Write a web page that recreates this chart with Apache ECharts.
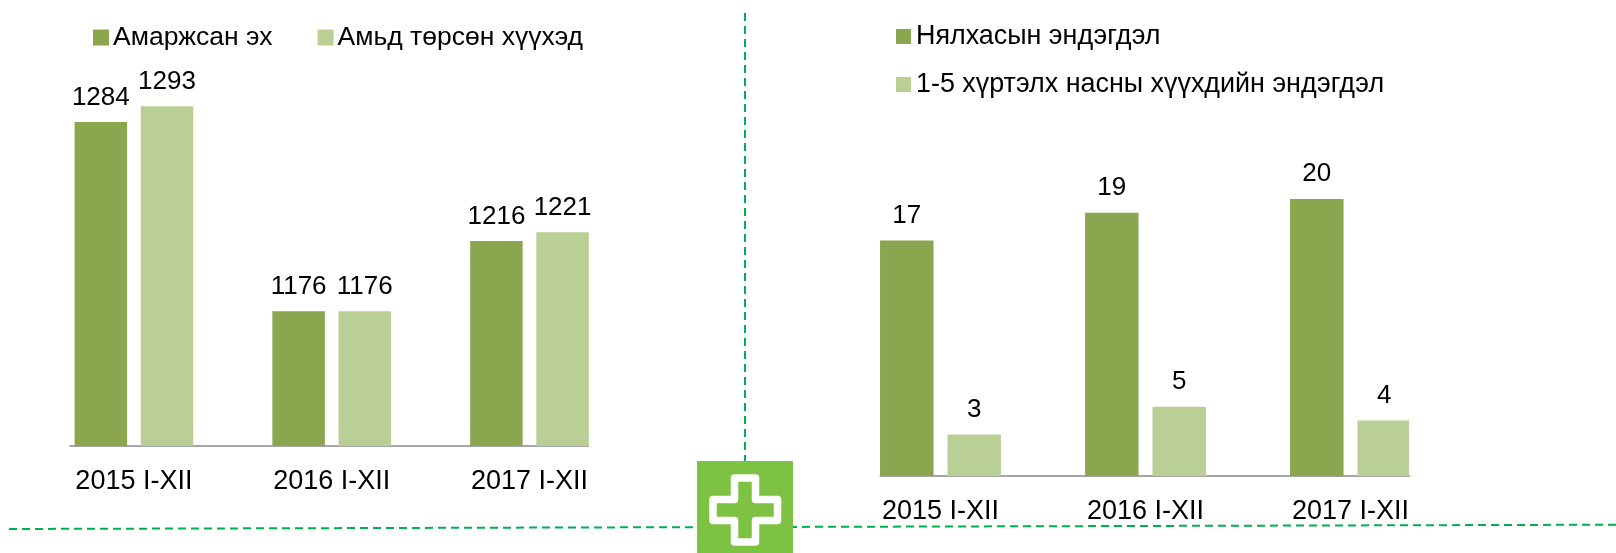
<!DOCTYPE html>
<html>
<head>
<meta charset="utf-8">
<style>html,body{margin:0;padding:0;background:#fff}#c{width:1616px;height:553px}</style>
<script src="https://cdn.jsdelivr.net/npm/echarts@6/dist/echarts.min.js"></script>
</head>
<body>
<div id="c"></div>
<script>
const periods = ['2015 I-XII', '2016 I-XII', '2017 I-XII'];
const mothersName = 'Амаржсан эх';
const mothers = [1284, 1176, 1216];
const birthsName = 'Амьд төрсөн хүүхэд';
const births = [1293, 1176, 1221];
const infantName = 'Нялхасын эндэгдэл';
const infant = [17, 19, 20];
const childName = '1-5 хүртэлх насны хүүхдийн эндэгдэл';
const child = [3, 5, 4];

const DARK = '#8aa64f', LIGHT = '#bacf96', GREEN = '#00b050', AXIS = '#a6a6a6';
const FONT = '"Liberation Sans", Arial, sans-serif';
const dashed = { stroke: GREEN, lineWidth: 2, lineDash: [8, 5] };

function bar(name, data, color, idx, width, gap, dist) {
  return {
    type: 'bar', name, data, xAxisIndex: idx, yAxisIndex: idx,
    barWidth: width, barGap: gap, animation: false,
    itemStyle: { color },
    label: { show: true, position: 'top', distance: dist, color: '#000', fontFamily: FONT, fontSize: 26 }
  };
}
const chart = echarts.init(document.getElementById('c'), null, { renderer: 'canvas' });
chart.setOption({
  backgroundColor: '#fff',
  animation: false,
  grid: [
    { left: 35, width: 593.4, top: 94, height: 352 },
    { left: 838, width: 615, top: 199, height: 277 },
    { left: 70, width: 518, top: 396, height: 50 },
    { left: 880.5, width: 528.5, top: 426, height: 50 }
  ],
  xAxis: [0, 1].map(i => ({
    type: 'category', gridIndex: i, data: periods,
    axisLine: { show: false }, axisTick: { show: false },
    axisLabel: { color: '#000', fontFamily: FONT, fontSize: 27, margin: 22.5 }
  })).concat([2, 3].map(i => ({
    type: 'category', gridIndex: i, data: periods,
    axisLine: { show: true, lineStyle: { color: AXIS, width: 2 } },
    axisTick: { show: false }, axisLabel: { show: false }
  }))),
  yAxis: [
    { type: 'value', gridIndex: 0, min: 1099, max: 1300, show: false },
    { type: 'value', gridIndex: 1, min: 0, max: 20, show: false },
    { type: 'value', gridIndex: 2, show: false },
    { type: 'value', gridIndex: 3, show: false }
  ],
  legend: [
    { data: [mothersName, birthsName], left: 93, top: 24, padding: 0, icon: 'rect', itemWidth: 16, itemHeight: 16, itemGap: 45,
      textStyle: { color: '#000', fontFamily: FONT, fontSize: 26.5, padding: [0, 0, 0, -1] } },
    { data: [infantName, childName], orient: 'vertical', left: 896, top: 23, padding: 0, icon: 'rect', itemWidth: 15, itemHeight: 15, itemGap: 21,
      textStyle: { color: '#000', fontFamily: FONT, fontSize: 26.9, padding: [0, 0, 0, 0] } }
  ],
  series: [
    bar(mothersName, mothers, DARK, 0, 52.5, '26%', 11.5),
    bar(birthsName, births, LIGHT, 0, 52.5, '26%', 11.5),
    bar(infantName, infant, DARK, 1, 53.5, '26%', 12),
    bar(childName, child, LIGHT, 1, 53.5, '26%', 12)
  ],
  graphic: [
    { type: 'rect', z: 50, shape: { x: 1409, y: 400, width: 6, height: 75 }, style: { fill: '#fff' } },
    { type: 'line', z: 40, shape: { x1: 745, y1: 13, x2: 745, y2: 461 }, style: dashed },
    { type: 'line', z: 40, shape: { x1: 9, y1: 529, x2: 1616, y2: 524.7 }, style: dashed },
    { type: 'rect', z: 60, shape: { x: 697, y: 461, width: 96, height: 92 }, style: { fill: '#7dc242' } },
    { type: 'polygon', z: 61, shape: { points: [
        [734.5, 478], [755.5, 478], [755.5, 499.5], [777.5, 499.5], [777.5, 520.5], [755.5, 520.5],
        [755.5, 542], [734.5, 542], [734.5, 520.5], [713, 520.5], [713, 499.5], [734.5, 499.5]] },
      style: { fill: 'transparent', stroke: '#fff', lineWidth: 7.5, lineJoin: 'round' } }
  ]
});
</script>
</body>
</html>
